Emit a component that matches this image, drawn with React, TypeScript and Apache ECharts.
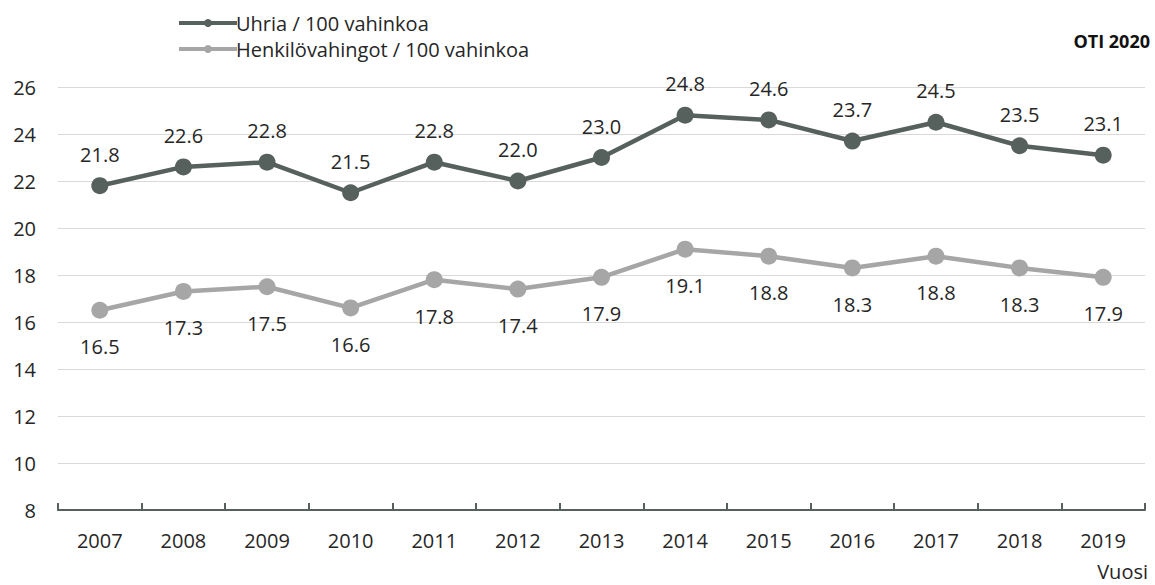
import React, { useEffect, useRef } from "react";
import * as echarts from "echarts";

const years = ["2007","2008","2009","2010","2011","2012","2013","2014","2015","2016","2017","2018","2019"];
const uhria = [21.8, 22.6, 22.8, 21.5, 22.8, 22.0, 23.0, 24.8, 24.6, 23.7, 24.5, 23.5, 23.1];
const henkilo = [16.5, 17.3, 17.5, 16.6, 17.8, 17.4, 17.9, 19.1, 18.8, 18.3, 18.8, 18.3, 17.9];
const seriesNames = ["Uhria / 100 vahinkoa", "Henkilövahingot / 100 vahinkoa"];

const FONT = "'Open Sans', 'Noto Sans', sans-serif";
const DARK = "#56605d";
const LIGHT = "#a6a6a6";
const TXT = "#262626";
const FS = 20;

export default function App() {
  const ref = useRef<HTMLDivElement>(null);
  useEffect(() => {
    const chart = echarts.init(ref.current!, null, { renderer: "svg" });
    chart.setOption({
      animation: false,
      textStyle: { fontFamily: FONT },
      legend: {
        orient: "vertical",
        left: 172,
        top: 8,
        itemWidth: 58,
        itemHeight: 10,
        itemGap: 6,
        lineStyle: { width: 4 },
        textStyle: { fontSize: FS, color: TXT, fontFamily: FONT, padding: [0, 0, 0, -6] },
        data: seriesNames,
      },
      grid: { left: 58, right: 10, top: 87, bottom: 75 },
      xAxis: {
        type: "category",
        data: years,
        boundaryGap: true,
        axisLine: { lineStyle: { color: DARK, width: 2 } },
        axisTick: { show: true, inside: true, length: 7, lineStyle: { color: DARK, width: 2 } },
        axisLabel: { color: TXT, fontSize: FS, margin: 20, fontFamily: FONT },
      },
      yAxis: {
        type: "value",
        min: 8,
        max: 26,
        interval: 2,
        axisLine: { show: false },
        axisTick: { show: false },
        splitLine: { lineStyle: { color: "#d9d9d9", width: 1 } },
        axisLabel: { color: TXT, fontSize: FS, margin: 22, fontFamily: FONT },
      },
      graphic: [
        { type: "text", right: 5, top: 32, style: { text: "OTI 2020", fontSize: 18, fontWeight: "bold", fill: "#111", fontFamily: FONT } },
        { type: "text", right: 7, top: 561, style: { text: "Vuosi", fontSize: FS, fill: TXT, fontFamily: FONT } },
      ],
      series: [
        {
          name: seriesNames[0],
          type: "line",
          data: uhria,
          symbol: "circle",
          symbolSize: 17,
          lineStyle: { color: DARK, width: 4.5 },
          itemStyle: { color: DARK },
          z: 3,
          label: { show: true, position: "top", distance: 13, fontSize: FS, color: TXT, fontFamily: FONT, formatter: (p: any) => p.value.toFixed(1) },
        },
        {
          name: seriesNames[1],
          type: "line",
          data: henkilo,
          symbol: "circle",
          symbolSize: 17,
          lineStyle: { color: LIGHT, width: 4.5 },
          itemStyle: { color: LIGHT },
          label: { show: true, position: "bottom", distance: 18, fontSize: FS, color: TXT, fontFamily: FONT, formatter: (p: any) => p.value.toFixed(1) },
        },
      ],
    });
    return () => chart.dispose();
  }, []);
  return <div ref={ref} style={{ width: 1155, height: 585, position: "absolute", left: 0, top: 0 }} />;
}
